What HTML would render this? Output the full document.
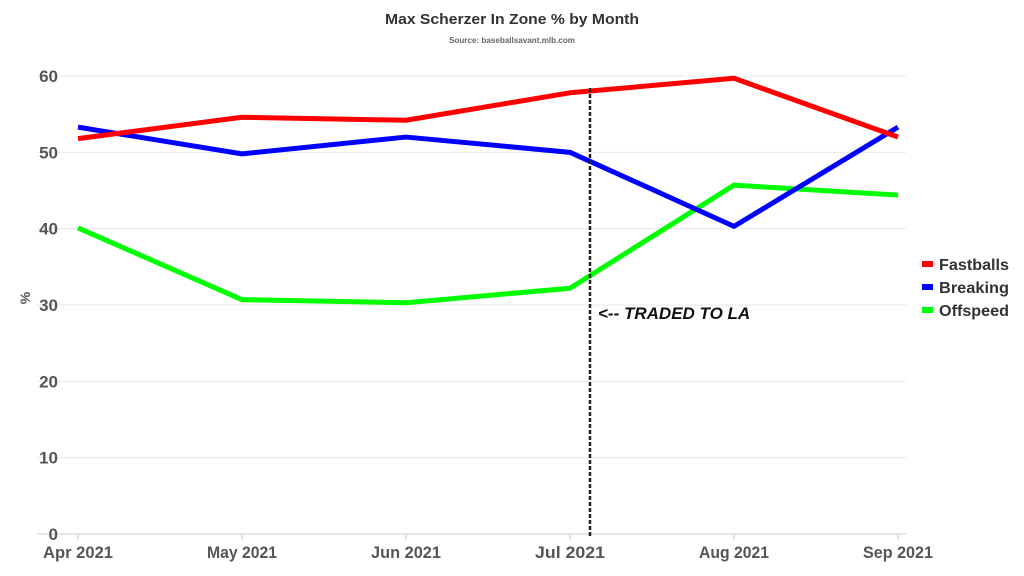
<!DOCTYPE html>
<html><head><meta charset="utf-8"><style>
body{margin:0;background:#fff;}
svg{display:block;font-family:"Liberation Sans",sans-serif;}
</style></head><body>
<svg id="chart" width="1024" height="576">
<text x="512" y="24" text-anchor="middle" font-size="15" font-weight="bold" fill="#333" textLength="254" lengthAdjust="spacingAndGlyphs">Max Scherzer In Zone % by Month</text>
<text x="512" y="43" text-anchor="middle" font-size="8" font-weight="bold" fill="#666" textLength="126" lengthAdjust="spacingAndGlyphs">Source: baseballsavant.mlb.com</text>
<g id="grid"></g><g id="series"></g>
<line x1="590" y1="88" x2="590" y2="536" stroke="#222" stroke-width="2.5" stroke-dasharray="4,2"/>
<text x="598" y="319" font-size="17" font-weight="bold" font-style="italic" fill="#111">&lt;-- TRADED TO LA</text>
<text x="30" y="298" font-size="14" font-weight="bold" fill="#555" transform="rotate(-90 30 298)" text-anchor="middle">%</text>
<g id="legend"></g>
</svg>
<script>
const categories=["Apr 2021","May 2021","Jun 2021","Jul 2021","Aug 2021","Sep 2021"];
const fastballs=[51.8,54.6,54.2,57.8,59.7,52.0];
const breaking=[53.3,49.8,52.0,50.0,40.3,53.3];
const offspeed=[40.1,30.7,30.3,32.2,45.7,44.4];
const yTicks=[0,10,20,30,40,50,60];
const seriesNames=["Fastballs","Breaking","Offspeed"];
const NS="http://www.w3.org/2000/svg";
const x=i=>78+i*(898-78)/(categories.length-1);
const y=v=>534-v*(534-76)/60;
function mk(t,a,p){const e=document.createElementNS(NS,t);for(const k in a)e.setAttribute(k,a[k]);p.appendChild(e);return e;}
const grid=document.getElementById('grid');
yTicks.forEach(t=>{
 const l=mk('line',{x1:37,x2:906,y1:y(t),y2:y(t),stroke:t===0?'#ccc':'#e8e8e8','stroke-width':1},grid);
 
 
 const tx=mk('text',{x:58,y:y(t)+6,'text-anchor':'end','font-size':17,'font-weight':'bold',fill:'#555'},grid);
 tx.textContent=t;
 
 
});
categories.forEach((c,i)=>{
 const tk=mk('line',{x1:x(i),x2:x(i),y1:534,y2:540,stroke:'#ccc'},grid);
 
 
 const tx=mk('text',{x:x(i),y:558,'text-anchor':'middle','font-size':17,'font-weight':'bold',fill:'#555',textLength:70,lengthAdjust:'spacingAndGlyphs'},grid);
 tx.textContent=c;
 
 
});
const colors=["#ff0000","#0000ff","#00ff00"];
const data=[fastballs,breaking,offspeed];
const sg=document.getElementById('series');
[2,1,0].forEach(s=>{
 const p=mk('polyline',{points:data[s].map((v,i)=>x(i)+','+y(v)).join(' '),fill:'none',stroke:colors[s],'stroke-width':5,'stroke-linejoin':'round'},sg);
 
 
});
const lg=document.getElementById('legend');
seriesNames.forEach((n,s)=>{
 const yy=265+s*23;
 const r=mk('rect',{x:922,y:yy-4,width:11,height:6,fill:colors[s]},lg);
 
 
 const t=mk('text',{x:939,y:yy+5,'font-size':16,'font-weight':'bold',fill:'#333',textLength:70,lengthAdjust:'spacingAndGlyphs'},lg);
 t.textContent=n;
 
 
});
</script>
</body></html>
